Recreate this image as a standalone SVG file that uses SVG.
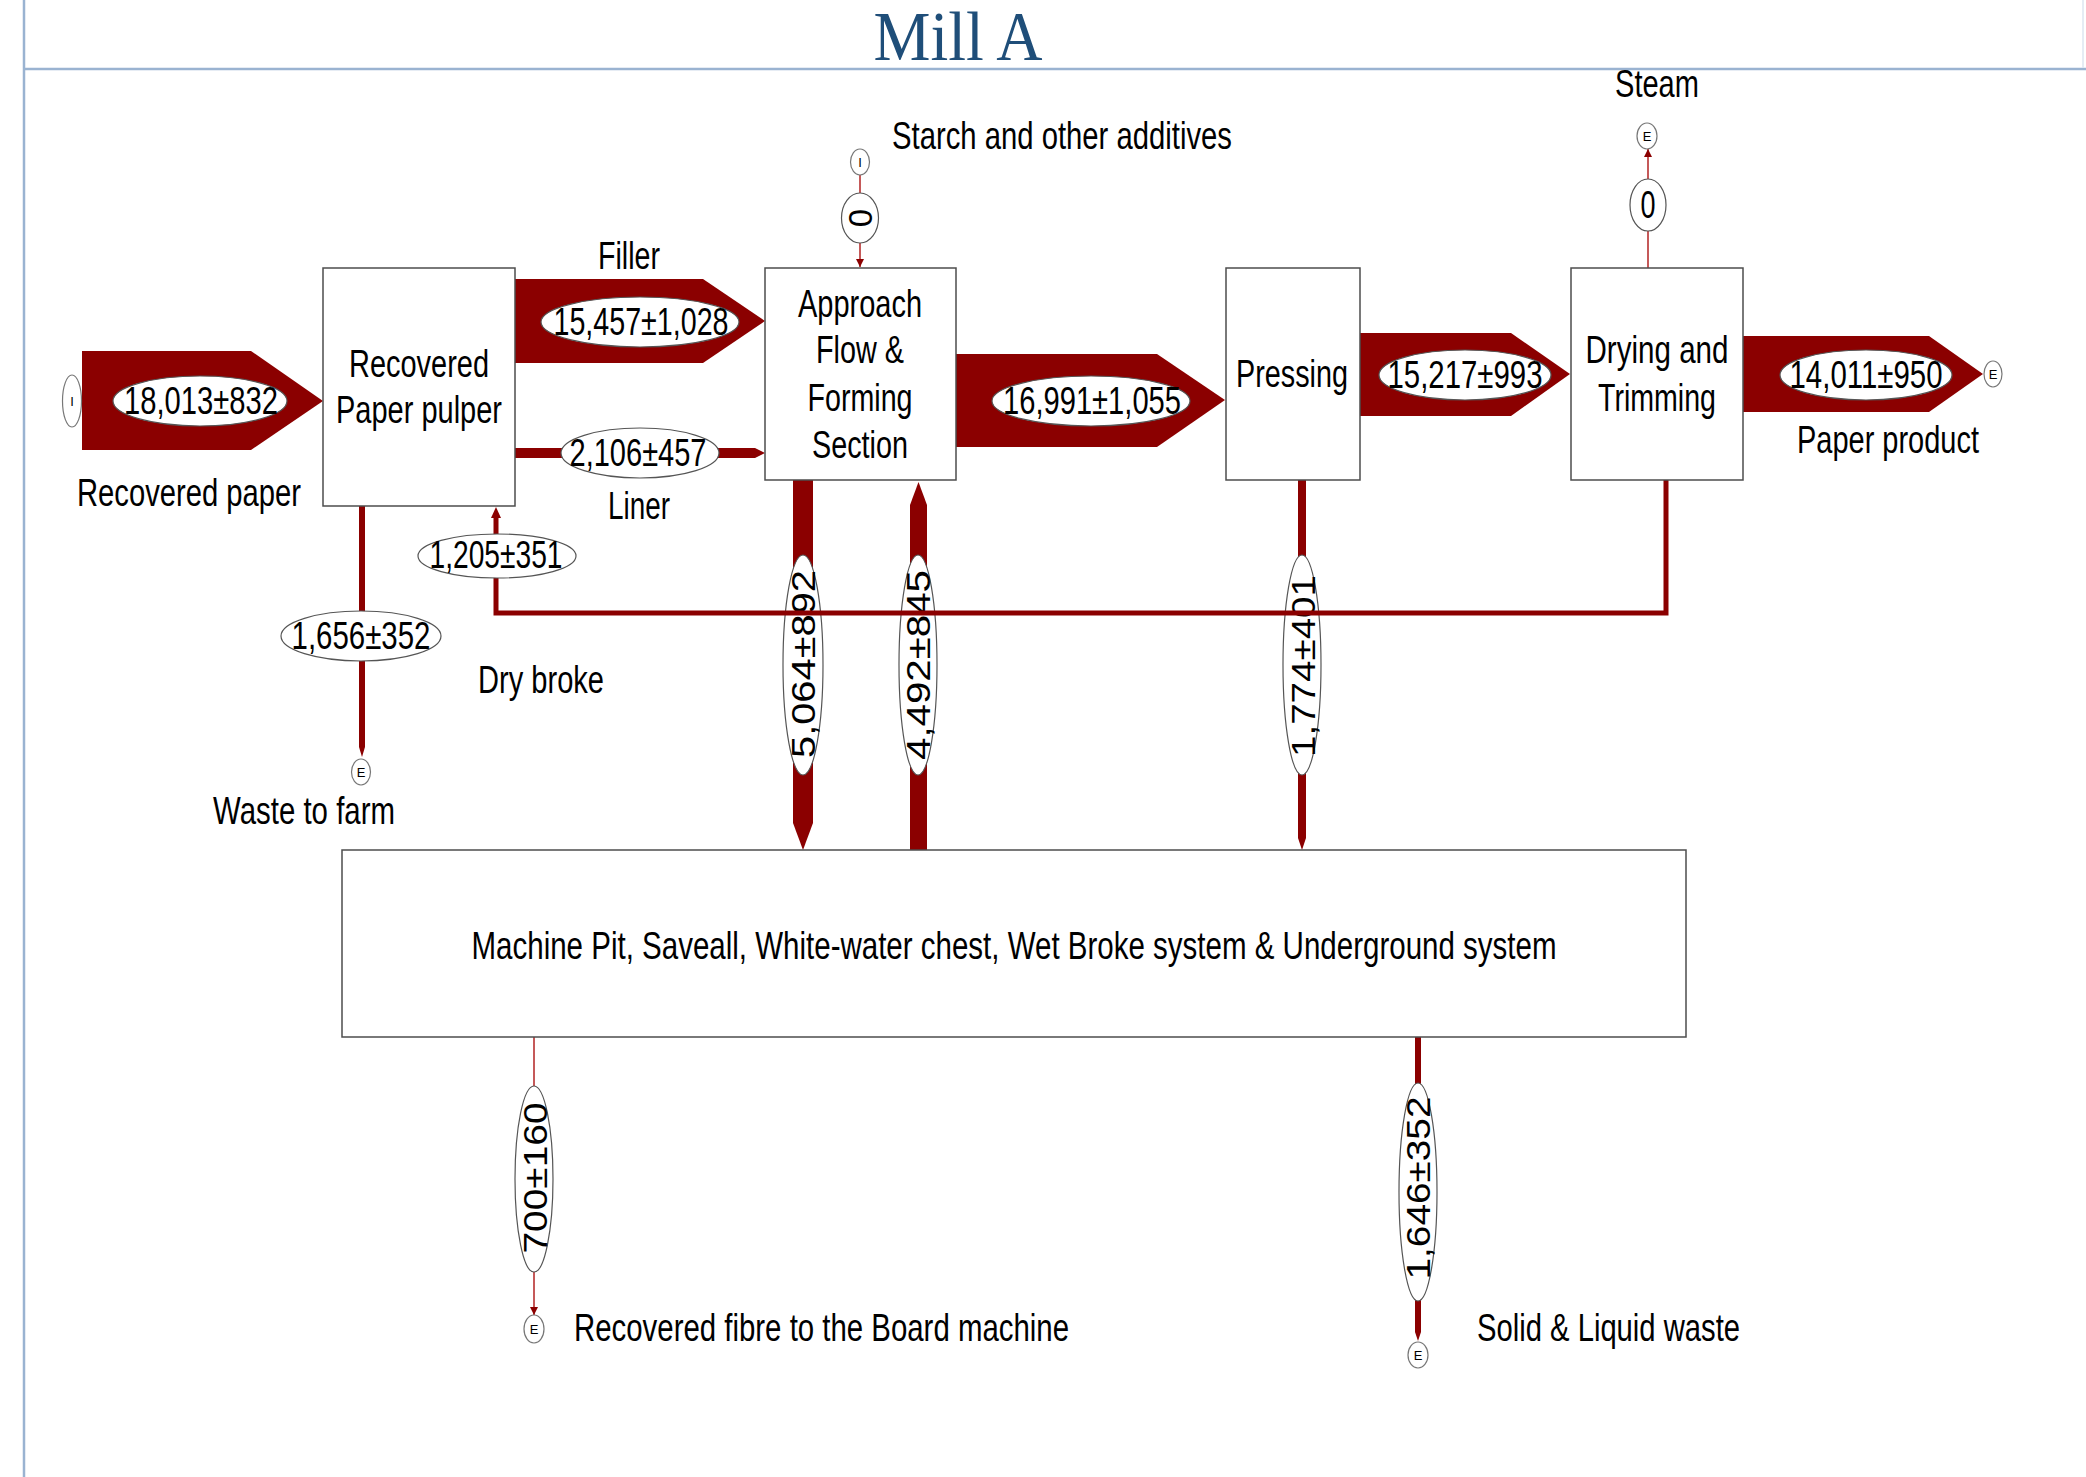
<svg xmlns="http://www.w3.org/2000/svg" width="2086" height="1477" viewBox="0 0 2086 1477">
<style>
text{font-family:"Liberation Sans",Arial,sans-serif;fill:#000}
.t{font-size:39px;text-anchor:middle}
.ts{font-size:39px;text-anchor:start}
.v{font-size:33px;text-anchor:middle}
.tt{font-size:13px;text-anchor:middle}
.title{font-family:"Liberation Serif","Times New Roman",serif;font-size:70px;fill:#1F4E79;text-anchor:middle}
.box{fill:#fff;stroke:#4d4d4d;stroke-width:1.5}
.flow{fill:#8B0000}
.thick{fill:none;stroke:#8B0000;stroke-width:5}
.thin{fill:none;stroke:#B22222;stroke-width:1.5}
.lab{fill:#fff;stroke:#555;stroke-width:1.2}
.term{fill:#fff;stroke:#777;stroke-width:1.2}
.frame{stroke:#9AB3D1;stroke-width:2.5;fill:none}
</style>
<defs>
<marker id="ah" viewBox="0 0 10 10" refX="10" refY="5" markerWidth="9" markerHeight="8" markerUnits="userSpaceOnUse" orient="auto"><path d="M0,0 L10,5 L0,10 z" fill="#8B0000"/></marker>
</defs>
<rect width="2086" height="1477" fill="#fff"/>
<g id="frame">
<line x1="24" y1="0" x2="24" y2="1477" class="frame"/>
<line x1="24" y1="69" x2="2086" y2="69" class="frame"/>
<line x1="2083" y1="0" x2="2083" y2="68" stroke="#dde6f0" stroke-width="1.5"/>
</g>
<text id="title" class="title" x="958" y="60" textLength="169" lengthAdjust="spacingAndGlyphs">Mill A</text>

<g id="connectors">
<polygon class="flow" points="82,351 251,351 323,401 251,450 82,450"/>
<ellipse class="lab" cx="200" cy="401" rx="87" ry="25"/>
<text class="t" x="201" y="414" textLength="154" lengthAdjust="spacingAndGlyphs">18,013±832</text>
<polygon class="flow" points="515,279 703,279 765,321 703,363 515,363"/>
<ellipse class="lab" cx="640" cy="322" rx="99" ry="25"/>
<text class="t" x="641" y="335" textLength="175" lengthAdjust="spacingAndGlyphs">15,457±1,028</text>
<polygon class="flow" points="515,448 755,448 765,453 755,458 515,458"/>
<ellipse class="lab" cx="640" cy="453" rx="79" ry="25"/>
<text class="t" x="638" y="466" textLength="137" lengthAdjust="spacingAndGlyphs">2,106±457</text>
<polygon class="flow" points="956,354 1157,354 1225,400 1157,447 956,447"/>
<ellipse class="lab" cx="1091" cy="401" rx="99" ry="25"/>
<text class="t" x="1092" y="414" textLength="178" lengthAdjust="spacingAndGlyphs">16,991±1,055</text>
<polygon class="flow" points="1360,333 1511,333 1570,374 1511,416 1360,416"/>
<ellipse class="lab" cx="1465" cy="375" rx="86" ry="25"/>
<text class="t" x="1465" y="388" textLength="155" lengthAdjust="spacingAndGlyphs">15,217±993</text>
<polygon class="flow" points="1743,336 1929,336 1983,374 1929,412 1743,412"/>
<ellipse class="lab" cx="1866" cy="375" rx="86" ry="25"/>
<text class="t" x="1866" y="388" textLength="153" lengthAdjust="spacingAndGlyphs">14,011±950</text>
<polygon class="flow" points="359,506 365,506 365,747 362,757 359,747"/>
<ellipse class="lab" cx="361" cy="636" rx="80" ry="25"/>
<text class="t" x="361" y="649" textLength="139" lengthAdjust="spacingAndGlyphs">1,656±352</text>
<polygon class="flow" points="793,480 813,480 813,823 803,850 793,823"/>
<ellipse class="lab" cx="803" cy="665" rx="20" ry="110"/>
<text class="v" transform="translate(803,664) rotate(-90)" x="0" y="12" textLength="188" lengthAdjust="spacingAndGlyphs">5,064±892</text>
<polygon class="flow" points="910,850 927,850 927,505 918.5,482 910,505"/>
<ellipse class="lab" cx="918" cy="665" rx="19" ry="110"/>
<text class="v" transform="translate(918,665) rotate(-90)" x="0" y="12" textLength="190" lengthAdjust="spacingAndGlyphs">4,492±845</text>
<polygon class="flow" points="1298,480 1306,480 1306,838 1302,850 1298,838"/>
<ellipse class="lab" cx="1302" cy="665" rx="19" ry="110"/>
<text class="v" transform="translate(1303,666) rotate(-90)" x="0" y="12" textLength="182" lengthAdjust="spacingAndGlyphs">1,774±401</text>
<path class="thick" d="M1666,480 V613 H496 V516"/>
<polygon class="flow" points="491,518 496,507 501,518"/>
<ellipse class="lab" cx="497" cy="556" rx="79" ry="22"/>
<text class="t" x="496" y="568" textLength="133" lengthAdjust="spacingAndGlyphs">1,205±351</text>
<path class="thin" d="M860,175 V193"/>
<path class="thin" d="M860,243 V267" marker-end="url(#ah)"/>
<ellipse class="lab" cx="860" cy="218" rx="18.5" ry="25"/>
<text class="v" transform="translate(860,218) rotate(-90)" x="0" y="12">0</text>
<path class="thin" d="M1648,268 V231"/>
<path class="thin" d="M1648,179 V149" marker-end="url(#ah)"/>
<ellipse class="lab" cx="1648" cy="205" rx="18" ry="26"/>
<text class="t" x="1648" y="218" textLength="15" lengthAdjust="spacingAndGlyphs">0</text>
<path class="thin" d="M534,1037 V1086"/>
<path class="thin" d="M534,1272 V1315" marker-end="url(#ah)"/>
<ellipse class="lab" cx="534" cy="1179" rx="19" ry="93"/>
<text class="v" transform="translate(535,1178) rotate(-90)" x="0" y="12" textLength="151" lengthAdjust="spacingAndGlyphs">700±160</text>
<polygon class="flow" points="1415,1037 1421,1037 1421,1332 1418,1341 1415,1332"/>
<ellipse class="lab" cx="1418" cy="1192" rx="19" ry="109"/>
<text class="v" transform="translate(1418,1188) rotate(-90)" x="0" y="12" textLength="183" lengthAdjust="spacingAndGlyphs">1,646±352</text>
</g>

<g id="pulper">
<rect class="box" x="323" y="268" width="192" height="238"/>
<text class="t" x="419" y="377" textLength="140" lengthAdjust="spacingAndGlyphs">Recovered</text>
<text class="t" x="419" y="423" textLength="166" lengthAdjust="spacingAndGlyphs">Paper pulper</text>
</g>
<g id="approach">
<rect class="box" x="765" y="268" width="191" height="212"/>
<text class="t" x="860" y="317" textLength="124" lengthAdjust="spacingAndGlyphs">Approach</text>
<text class="t" x="860" y="363" textLength="88" lengthAdjust="spacingAndGlyphs">Flow &amp;</text>
<text class="t" x="860" y="411" textLength="105" lengthAdjust="spacingAndGlyphs">Forming</text>
<text class="t" x="860" y="458" textLength="96" lengthAdjust="spacingAndGlyphs">Section</text>
</g>
<g id="pressing">
<rect class="box" x="1226" y="268" width="134" height="212"/>
<text class="t" x="1292" y="387" textLength="112" lengthAdjust="spacingAndGlyphs">Pressing</text>
</g>
<g id="drying">
<rect class="box" x="1571" y="268" width="172" height="212"/>
<text class="t" x="1657" y="363" textLength="143" lengthAdjust="spacingAndGlyphs">Drying and</text>
<text class="t" x="1657" y="411" textLength="118" lengthAdjust="spacingAndGlyphs">Trimming</text>
</g>
<g id="machine-pit">
<rect class="box" x="342" y="850" width="1344" height="187"/>
<text class="t" x="1014" y="959" textLength="1085" lengthAdjust="spacingAndGlyphs">Machine Pit, Saveall, White-water chest, Wet Broke system &amp; Underground system</text>
</g>

<g id="in-recovered-paper">
<ellipse class="term" cx="72" cy="401" rx="9.5" ry="26"/>
<text class="tt" x="72" y="406">I</text>
<text class="t" x="189" y="506" textLength="224" lengthAdjust="spacingAndGlyphs">Recovered paper</text>
</g>
<g id="in-starch">
<ellipse class="term" cx="860" cy="162" rx="9.5" ry="13"/>
<text class="tt" x="860" y="167">I</text>
<text class="ts" x="892" y="149" textLength="340" lengthAdjust="spacingAndGlyphs">Starch and other additives</text>
</g>
<g id="out-steam">
<ellipse class="term" cx="1647" cy="136" rx="10" ry="13"/>
<text class="tt" x="1647" y="141">E</text>
<text class="t" x="1657" y="97" textLength="84" lengthAdjust="spacingAndGlyphs">Steam</text>
</g>
<g id="out-paper-product">
<ellipse class="term" cx="1993" cy="374" rx="9" ry="13"/>
<text class="tt" x="1993" y="379">E</text>
<text class="t" x="1888" y="453" textLength="182" lengthAdjust="spacingAndGlyphs">Paper product</text>
</g>
<g id="out-waste-to-farm">
<ellipse class="term" cx="361" cy="772" rx="9.5" ry="13"/>
<text class="tt" x="361" y="777">E</text>
<text class="t" x="304" y="824" textLength="182" lengthAdjust="spacingAndGlyphs">Waste to farm</text>
</g>
<g id="out-board-machine">
<ellipse class="term" cx="534" cy="1329" rx="10" ry="14"/>
<text class="tt" x="534" y="1334">E</text>
<text class="ts" x="574" y="1341" textLength="495" lengthAdjust="spacingAndGlyphs">Recovered fibre to the Board machine</text>
</g>
<g id="out-solid-liquid-waste">
<ellipse class="term" cx="1418" cy="1355" rx="10" ry="13"/>
<text class="tt" x="1418" y="1360">E</text>
<text class="ts" x="1477" y="1341" textLength="263" lengthAdjust="spacingAndGlyphs">Solid &amp; Liquid waste</text>
</g>
<g id="flow-labels">
<text class="t" x="629" y="269" textLength="62" lengthAdjust="spacingAndGlyphs">Filler</text>
<text class="t" x="639" y="519" textLength="62" lengthAdjust="spacingAndGlyphs">Liner</text>
<text class="t" x="541" y="693" textLength="126" lengthAdjust="spacingAndGlyphs">Dry broke</text>
</g>
</svg>
